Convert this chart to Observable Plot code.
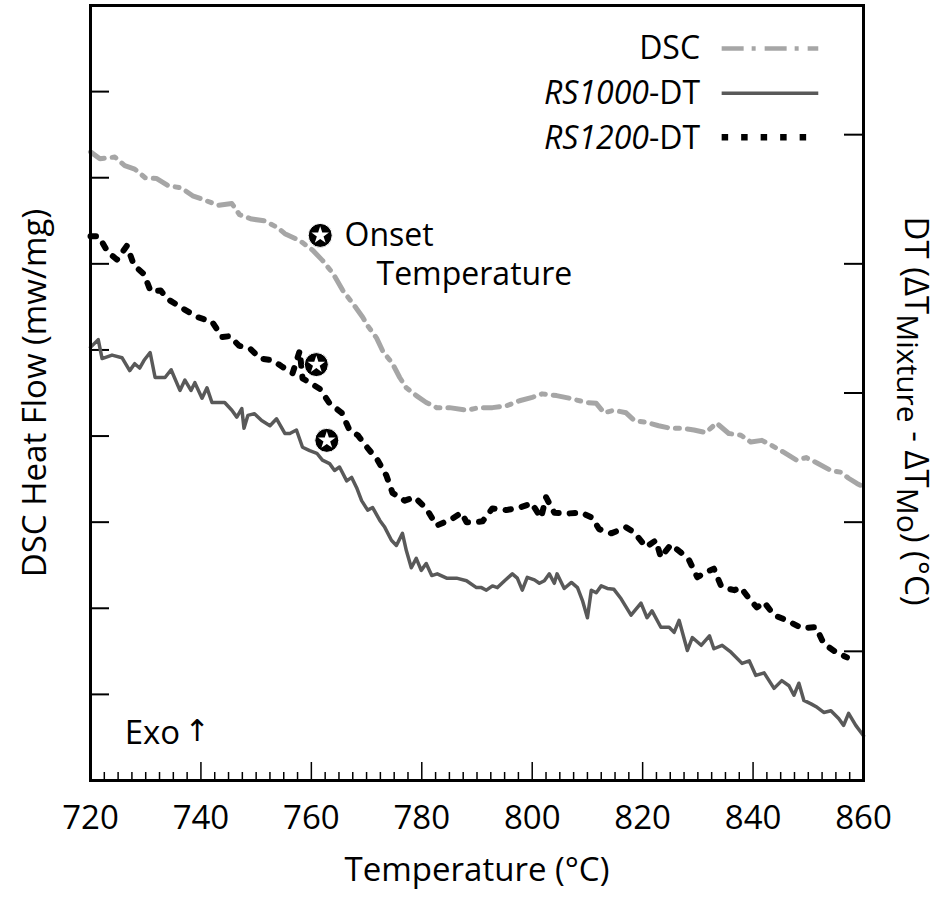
<!DOCTYPE html>
<html><head><meta charset="utf-8">
<script src="https://cdn.jsdelivr.net/npm/d3@7"></script>
<script src="https://cdn.jsdelivr.net/npm/@observablehq/plot@0.6"></script>
<style>body{margin:0;background:#fff}</style>
</head><body><div id="chart"></div>
<script>
// ---- data (temperature °C, left-axis units) ----
const dscT = [720,721.7,724.4,726.2,728,729.9,732,734,736.5,738.5,740.7,743.1,745.6,747,749.2,751.5,753.9,755.2,757.9,760.2,762,763.9,765.7,767.5,769.3,770.2,771.8,772.9,774.7,776,777.2,779,780.8,782.7,785,788.1,790.4,792.8,795.3,797.7,800,801.8,804.4,806.7,809.8,811.6,813,814.8,817,818.5,820.6,822.9,825.1,827.1,829.3,831.4,833.4,835.6,837.8,839.6,841.6,843.4,845.6,847.9,849.6,851.5,854.1,855.9,857.3,858.8,860];
const dscV = [7.30,7.22,7.24,7.14,7.10,7.00,6.99,6.91,6.88,6.79,6.74,6.68,6.70,6.57,6.52,6.50,6.42,6.35,6.27,6.16,6.04,5.89,5.69,5.54,5.38,5.28,5.14,4.99,4.84,4.68,4.56,4.47,4.39,4.33,4.33,4.30,4.33,4.33,4.35,4.41,4.45,4.49,4.47,4.44,4.39,4.38,4.27,4.30,4.27,4.18,4.16,4.12,4.09,4.09,4.07,4.04,4.15,4.03,4.01,3.93,3.95,3.89,3.81,3.72,3.75,3.69,3.60,3.58,3.51,3.45,3.41];

const rs1200T = [720,721.5,723.2,724.8,726.6,727.9,729.7,730.9,732.7,734,736.5,739.4,742,743.8,745.2,746.9,749,750.7,753,754.6,756.6,757.9,758.4,761.5,763.3,765.5,766.9,768.4,770.2,772,773.6,774.7,776.9,778.7,780.8,782.7,784.1,785.5,787.2,788.1,789.9,791,792.8,795.3,797.7,800,800.4,801.6,802.5,804,806.2,808.9,810.9,812.1,814.3,817,818.5,820.6,822.4,823.3,825.1,826.9,828.4,829.9,831.5,832.9,834.2,835.3,836.6,837.8,839.3,840.7,842,843.8,846.1,848.8,851.4,852.8,855,857];
const rs1200V = [6.32,6.32,6.13,6.05,6.21,5.98,5.88,5.68,5.69,5.59,5.49,5.38,5.33,5.15,5.16,5.05,5.01,4.90,4.88,4.81,4.73,4.99,4.67,4.55,4.38,4.27,4.07,4.01,3.86,3.72,3.54,3.34,3.25,3.29,3.16,2.96,3.00,3.04,3.11,3.00,3.00,3.01,3.16,3.14,3.17,3.22,3.17,3.05,3.29,3.11,3.10,3.11,3.05,2.92,2.87,2.94,2.88,2.71,2.79,2.59,2.74,2.65,2.56,2.36,2.42,2.46,2.26,2.23,2.21,2.24,2.11,2.01,2.07,1.92,1.86,1.77,1.78,1.59,1.49,1.43];

const rs1000T = [720,721.4,722.1,723.9,725.7,727.1,728,728.9,729.7,730.8,731.7,733.5,734.6,736.2,737.1,738.2,738.9,740.2,741.1,742,744.3,745.6,746.5,747.4,747.8,748.5,749.7,751,752.5,753.7,755.2,756.1,757.3,758.4,759.7,761,762,763.3,764.2,765.1,766.4,767.3,768.2,769.1,770.2,771.1,772.4,773.3,774.5,775.4,776.5,777.2,778.1,779,779.9,780.8,781.8,782.8,784.5,786.3,788.1,789.9,790.8,791.7,792.8,793.7,795,796.4,797.3,798.2,799.1,800.4,801.3,802.2,803.1,804,804.5,805.8,807.1,808.2,809.1,810,810.7,811.6,812.5,813.6,814.8,816.1,817.9,819.7,820.8,821.7,823.3,824.8,825.7,826.6,828.1,829,830.6,832.1,832.9,834.4,836,838,839.3,840.5,842,843.8,845.2,846.5,847.4,848.3,849.2,850.5,851.6,852.8,854.1,855.5,856.4,857.3,858.6,860];
const rs1000V = [5.03,5.12,4.90,4.94,4.91,4.76,4.84,4.79,4.88,4.97,4.68,4.68,4.77,4.53,4.65,4.53,4.62,4.44,4.56,4.39,4.39,4.30,4.22,4.32,4.09,4.24,4.26,4.18,4.12,4.20,4.03,4.03,4.07,3.87,3.83,3.80,3.72,3.68,3.60,3.64,3.48,3.52,3.40,3.25,3.14,3.17,3.02,2.94,2.79,2.73,2.87,2.67,2.47,2.58,2.44,2.52,2.38,2.40,2.35,2.35,2.32,2.24,2.24,2.21,2.26,2.24,2.32,2.40,2.35,2.21,2.36,2.33,2.29,2.32,2.40,2.29,2.40,2.23,2.30,2.24,2.09,1.89,2.21,2.18,2.26,2.23,2.22,2.11,1.92,2.06,1.89,1.97,1.78,1.78,1.72,1.86,1.51,1.66,1.57,1.68,1.53,1.57,1.49,1.36,1.39,1.22,1.25,1.07,1.16,1.10,0.99,1.13,0.93,0.89,0.85,0.79,0.81,0.72,0.64,0.78,0.64,0.52];

// onset temperatures (°C) and curve levels
const onsetT = [761.6, 760.9, 762.8];
const onsetV = [6.33, 4.83, 3.95];

// ticks
const xTicks = [720, 740, 760, 780, 800, 820, 840, 860];
const xMinor = d3.range(722.5, 860, 2.5).filter(t => t % 20 !== 0);
const leftTicks = [1, 2, 3, 4, 5, 6, 7, 8];
const rightTicks = [1.5, 3, 4.5, 6, 7.5];

// texts
const legendLabels = ["DSC", "RS1000-DT", "RS1200-DT"];
const xLabel = "Temperature (°C)";
const yLabel = "DSC Heat Flow (mw/mg)";
const y2Label = "DT (ΔTMixture - ΔTMo) (°C)";

// ---- layout / style constants ----
const FONT = "'Open Sans', sans-serif";
const FS = 32;
const frameW = 943 - 90 - 80;  // plot area width
const frameH = 918 - 5 - 138;  // plot area height
const legendTextX = 830.4, legendLineX1 = 834.4, legendLineX2 = 851.9;
const legendLineY = [8.50, 7.98, 7.47];

const rows = (T, V) => T.map((t, i) => ({t, v: V[i]})).filter(d => d.v !== undefined);
const dsc = rows(dscT, dscV), rs1000 = rows(rs1000T, rs1000V), rs1200 = rows(rs1200T, rs1200V);
const onsets = rows(onsetT, onsetV);

const svg = Plot.plot({
  width: 943, height: 918,
  marginLeft: 90, marginRight: 80, marginTop: 5, marginBottom: 138,
  style: {fontFamily: FONT, background: "white", color: "black", overflow: "visible"},
  x: {domain: [720, 860], axis: null},
  y: {domain: [0, 9], axis: null},
  marks: [
    // ticks (inward)
    Plot.tickX(xMinor, {x: d => d, insetTop: frameH - 8, stroke: "black", strokeWidth: 1.5}),
    Plot.tickX(xTicks, {x: d => d, insetTop: frameH - 18, stroke: "black", strokeWidth: 1.5}),
    Plot.tickY(leftTicks, {y: d => d, insetRight: frameW - 19, stroke: "black", strokeWidth: 2}),
    Plot.tickY(rightTicks, {y: d => d, insetLeft: frameW - 19, stroke: "black", strokeWidth: 2}),
    // tick labels and axis titles
    Plot.text(xTicks, {x: d => d, frameAnchor: "bottom", dy: 48, text: d => String(d), fontSize: 33, fill: "black"}),
    Plot.text([xLabel], {frameAnchor: "bottom", dy: 100, fontSize: 33, fill: "black"}),
    Plot.text([yLabel], {frameAnchor: "left", textAnchor: "middle", dx: -55, rotate: -90, fontSize: 33, fill: "black"}),
    Plot.text([y2Label], {frameAnchor: "right", textAnchor: "middle", dx: 52, dy: 18, rotate: 90, fontSize: 33, fill: "black"}),
    // series
    Plot.line(dsc, {x: "t", y: "v", stroke: "#a6a6a6", strokeWidth: 5, strokeDasharray: "16,8,4,8"}),
    Plot.line(rs1000, {x: "t", y: "v", stroke: "#595959", strokeWidth: 3.5}),
    Plot.line(rs1200, {x: "t", y: "v", stroke: "black", strokeWidth: 6, strokeDasharray: "5.5,11"}),
    // onset markers
    Plot.dot(onsets, {x: "t", y: "v", r: 12, fill: "black", stroke: "white", strokeWidth: 1}),
    Plot.dot(onsets, {x: "t", y: "v", symbol: "star", r: 5.5, fill: "white"}),
    Plot.text(["Onset"], {x: 766, y: 6.33, textAnchor: "start", fontSize: FS, fill: "black"}),
    Plot.text(["Temperature"], {x: 771.8, y: 5.87, textAnchor: "start", fontSize: FS, fill: "black"}),
    // Exo
    Plot.text(["Exo"], {x: 726.2, y: 0.55, textAnchor: "start", fontSize: 33, fill: "black"}),
    Plot.text(["↑"], {x: 739.3, y: 0.57, fontSize: 30, fontFamily: "DejaVu Sans", fill: "black"}),
    // legend
    Plot.text(legendLabels, {x: legendTextX, y: (d, i) => legendLineY[i] - 0.01 * i, textAnchor: "end", fontSize: FS, fill: "black"}),
    Plot.ruleY([legendLineY[0]], {x1: legendLineX1, x2: legendLineX2, stroke: "#a6a6a6", strokeWidth: 4.5, strokeDasharray: "22,8,4,9"}),
    Plot.ruleY([legendLineY[1]], {x1: legendLineX1, x2: legendLineX2, stroke: "#595959", strokeWidth: 3.5}),
    Plot.ruleY([legendLineY[2]], {x1: legendLineX1, x2: legendLineX2, stroke: "black", strokeWidth: 6.5, strokeDasharray: "6.5,13"}),
    Plot.frame({stroke: "black", strokeWidth: 3})
  ]
});

// rich text: italic sample names and subscripts
d3.select(svg).selectAll("text").each(function () {
  const s = this.textContent;
  const sel = d3.select(this);
  if (s === "RS1000-DT" || s === "RS1200-DT") {
    sel.text(null);
    sel.append("tspan").attr("font-style", "italic").text(s.slice(0, 6));
    sel.append("tspan").text("-DT");
  } else if (s === y2Label) {
    sel.text(null);
    sel.append("tspan").text("DT (ΔT");
    sel.append("tspan").attr("font-size", 30).attr("dy", 8).text("Mixture");
    sel.append("tspan").attr("dy", -8).text(" - ΔT");
    sel.append("tspan").attr("font-size", 30).attr("dy", 8).text("Mo");
    sel.append("tspan").attr("dy", -8).text(") (°C)");
  }
});

document.getElementById("chart").appendChild(svg);
</script>
</body></html>
